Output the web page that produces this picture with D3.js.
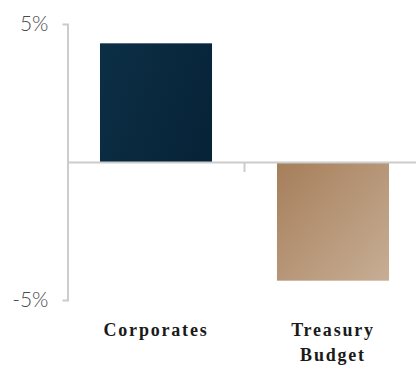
<!DOCTYPE html>
<html>
<head>
<meta charset="utf-8">
<script src="https://cdn.jsdelivr.net/npm/d3@7"></script>
<style>
  html, body { margin: 0; padding: 0; background: #fff; }
  svg { display: block; }
</style>
</head>
<body>
<div id="chart"></div>
<script>
const categories = ["Corporates", "Treasury Budget"];
const categoryLines = [["Corporates"], ["Treasury", "Budget"]];
const values = [4.3, -4.3];
const yTickValues = [5, -5];
const yTickLabels = ["5%", "-5%"];

const W = 416, H = 372;
const svg = d3.select("#chart").append("svg").attr("width", W).attr("height", H);

const defs = svg.append("defs");
const g1 = defs.append("linearGradient").attr("id", "gNavy")
  .attr("x1", "0").attr("y1", "0.3").attr("x2", "1").attr("y2", "0.7");
g1.append("stop").attr("offset", "0").attr("stop-color", "#0c2e45");
g1.append("stop").attr("offset", "1").attr("stop-color", "#072338");
const g2 = defs.append("linearGradient").attr("id", "gTan")
  .attr("x1", "0").attr("y1", "0").attr("x2", "1").attr("y2", "1");
g2.append("stop").attr("offset", "0").attr("stop-color", "#a67e5a");
g2.append("stop").attr("offset", "1").attr("stop-color", "#c7ae95");
const fills = ["url(#gNavy)", "url(#gTan)"];

const y = d3.scaleLinear().domain([-5, 5]).range([300, 24]);
const x = d3.scaleBand().domain(categories).range([67.5, 421.5])
  .paddingInner(0.367).paddingOuter(0.1835);

// bars
svg.append("g").selectAll("rect").data(values).join("rect")
  .attr("x", (d, i) => x(categories[i]))
  .attr("width", x.bandwidth())
  .attr("y", d => y(Math.max(0, d)))
  .attr("height", d => Math.abs(y(d) - y(0)))
  .attr("fill", (d, i) => fills[i]);

// y axis
const yAxis = d3.axisLeft(y).tickValues(yTickValues)
  .tickFormat((d, i) => yTickLabels[i])
  .tickSizeInner(0).tickSizeOuter(5).tickPadding(19);
const gy = svg.append("g").attr("transform", "translate(67.5,0)").call(yAxis);
gy.select(".domain").attr("stroke", "#cccccc").attr("stroke-width", 2);
gy.selectAll(".tick line").remove();
gy.selectAll(".tick text")
  .attr("font-family", "Lato, 'Open Sans', sans-serif")
  .attr("font-weight", 300)
  .attr("font-size", 21)
  .attr("fill", "#4a4a4a");

// zero line
const xAxis = d3.axisBottom(x).tickSize(0).tickSizeOuter(0).tickFormat("");
const gx = svg.append("g").attr("transform", `translate(0,${y(0)})`).call(xAxis);
gx.select(".domain").attr("stroke", "#cccccc").attr("stroke-width", 2);
gx.selectAll(".tick").remove();
// boundary tick between categories
const boundary = x(categories[1]) - x.step() * x.paddingInner() / 2;
gx.append("line").attr("x1", boundary).attr("x2", boundary)
  .attr("y1", 0).attr("y2", 10).attr("stroke", "#cccccc").attr("stroke-width", 2);

// category labels
const lbl = svg.append("g");
categoryLines.forEach((lines, i) => {
  const cx = x(categories[i]) + x.bandwidth() / 2;
  const t = lbl.append("text")
    .attr("x", cx).attr("y", 336)
    .attr("text-anchor", "middle")
    .attr("font-family", "'Liberation Serif', 'DejaVu Serif', serif")
    .attr("font-weight", "bold")
    .attr("font-size", 18)
    .attr("letter-spacing", 1.8)
    .attr("fill", "#1a1a1a");
  lines.forEach((ln, j) => {
    t.append("tspan").attr("x", cx).attr("dy", j === 0 ? 0 : 25).text(ln);
  });
});
</script>
</body>
</html>
